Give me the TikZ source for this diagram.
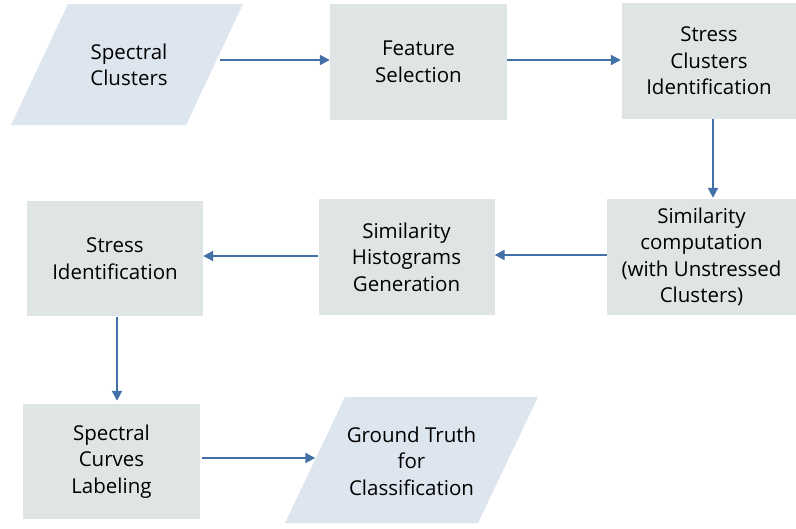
\documentclass[tikz,border=0pt]{standalone}
\usepackage{fontspec}
\setmainfont{Open Sans}
\usetikzlibrary{arrows.meta}
\definecolor{boxgrey}{HTML}{DFE5E5}
\definecolor{parblue}{HTML}{DDE5EF}
\definecolor{arrblue}{HTML}{4470A8}
\tikzset{
  stepbox/.style={fill=boxgrey, draw=none, align=center, inner sep=0pt,
    font=\fontsize{20.5}{26.5}\selectfont},
  partext/.style={draw=none, align=center, inner sep=0pt,
    font=\fontsize{20.5}{26.5}\selectfont},
  arr/.style={draw=arrblue, line width=2pt, -{Triangle[length=10pt,width=10pt]}}
}
\begin{document}
\begin{tikzpicture}[x=1pt,y=-1pt]
\useasboundingbox (0,0) rectangle (796,528);
% parallelograms
\fill[parblue] (68,4) -- (243,4) -- (186,125) -- (11,125) -- cycle;
\fill[parblue] (345,397) -- (538,397) -- (478,523) -- (285,523) -- cycle;
% nodes
\node[partext, minimum width=185pt, minimum height=60pt] (sc) at (129,65) {Spectral\\Clusters};
\node[stepbox, minimum width=177pt, minimum height=116pt] (fs) at (418.5,62) {Feature\\Selection};
\node[stepbox, minimum width=174pt, minimum height=116pt] (sci) at (709,61) {Stress\\Clusters\\Identification};
\node[stepbox, minimum width=189pt, minimum height=116pt] (simc) at (701.5,257) {Similarity\\computation\\(with Unstressed\\Clusters)};
\node[stepbox, minimum width=176pt, minimum height=116pt] (shg) at (406.5,257) {Similarity\\Histograms\\Generation};
\node[stepbox, minimum width=176pt, minimum height=115pt] (si) at (115,258.5) {Stress\\Identification};
\node[stepbox, minimum width=177pt, minimum height=115pt] (scl) at (111.5,461.5) {Spectral\\Curves\\Labeling};
\node[partext, minimum width=200pt, minimum height=80pt] (gt) at (411.5,461) {Ground Truth\\for\\Classification};
% connector start points
\coordinate (s1) at ([yshift=5pt,xshift=-2pt]sc.east);
\coordinate (s2) at ([yshift=2pt]fs.east);
\coordinate (s3) at ([xshift=4pt]sci.south);
\coordinate (s4) at ([yshift=2pt]simc.west);
\coordinate (s5) at ([yshift=1pt]shg.west);
\coordinate (s6) at ([xshift=2pt,yshift=-1pt]si.south);
\coordinate (s7) at ([yshift=3.5pt,xshift=2pt]scl.east);
% connectors
\draw[arr] (s1) -- (s1 -| fs.west);
\draw[arr] (s2) -- ([xshift=-1pt]s2 -| sci.west);
\draw[arr] (s3) -- ([yshift=1pt]s3 |- simc.north);
\draw[arr] (s4) -- (s4 -| shg.east);
\draw[arr] (s5) -- (s5 -| si.east);
\draw[arr] (s6) -- ([yshift=3pt]s6 |- scl.north);
\draw[arr] (s7) -- ([xshift=4pt]s7 -| gt.west);
\end{tikzpicture}
\end{document}
